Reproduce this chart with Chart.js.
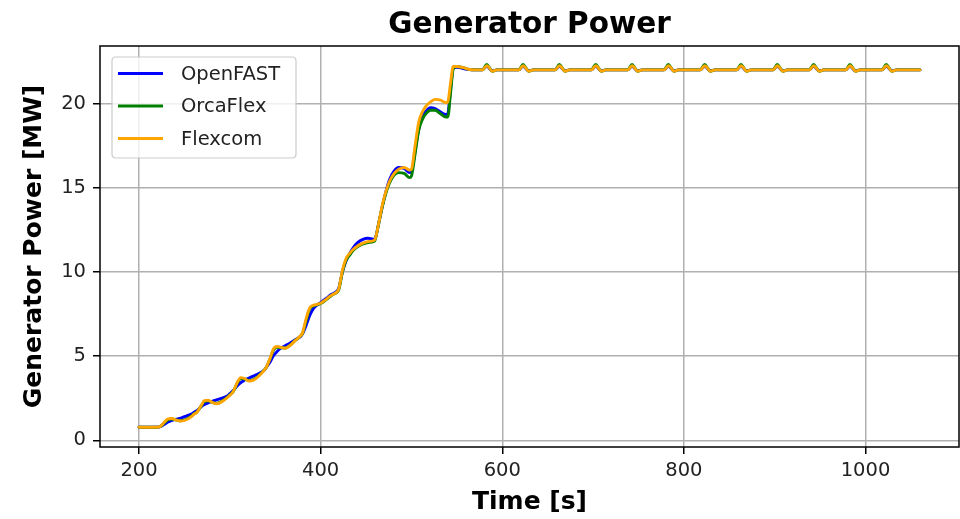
<!DOCTYPE html>
<html>
<head>
<meta charset="utf-8">
<script src="https://cdn.jsdelivr.net/npm/chart.js@4/dist/chart.umd.min.js"></script>
<style>
  html, body { margin: 0; padding: 0; background: #ffffff; }
  canvas { display: block; }
</style>
</head>
<body>
<canvas id="c" width="960" height="519"></canvas>
<script>
const chartTitle = 'Generator Power';
const xLabel = 'Time [s]';
const yLabel = 'Generator Power [MW]';
const seriesNames = ['OpenFAST', 'OrcaFlex', 'Flexcom'];
const xTicks = [200, 400, 600, 800, 1000];
const yTicks = [0, 5, 10, 15, 20];

const times = [200, 210,
  220, 224, 228, 232, 236, 241, 246, 252, 258,
  260, 264, 268, 272, 276, 281, 286, 292, 298,
  300, 304, 308, 312, 316, 321, 326, 332, 338,
  340, 344, 348, 352, 356, 361, 366, 372, 378,
  380, 384, 388, 392, 396, 401, 406, 412, 418,
  420, 424, 428, 432, 436, 441, 446, 452, 458,
  460, 464, 468, 472, 476, 481, 486, 492, 498,
  500, 504, 508, 512, 516, 521, 526, 532, 538,
  540, 543, 546, 550, 556, 562, 570,
  578, 583, 586, 589, 594,
  618, 623, 626, 629, 634,
  658, 663, 666, 669, 674,
  698, 703, 706, 709, 714,
  738, 743, 746, 749, 754,
  778, 783, 786, 789, 794,
  818, 823, 826, 829, 834,
  858, 863, 866, 869, 874,
  898, 903, 906, 909, 914,
  938, 943, 946, 949, 954,
  978, 983, 986, 989, 994,
  1018, 1023, 1026, 1029, 1034,
  1060];

const openfast = [0.77, 0.77,
  0.77, 0.82, 0.95, 1.08, 1.18, 1.25, 1.32, 1.44, 1.57,
  1.64, 1.77, 1.97, 2.12, 2.22, 2.32, 2.42, 2.52, 2.67,
  2.77, 2.97, 3.22, 3.42, 3.57, 3.70, 3.82, 3.97, 4.17,
  4.32, 4.62, 5.02, 5.27, 5.47, 5.62, 5.77, 5.97, 6.17,
  6.32, 6.82, 7.42, 7.82, 8.02, 8.22, 8.42, 8.67, 8.87,
  9.05, 10.0, 10.65, 11.1, 11.45, 11.75, 11.92, 12.0, 11.95,
  12.0, 12.9, 13.9, 14.8, 15.5, 16.0, 16.2, 16.15, 15.9,
  15.95, 17.2, 18.5, 19.2, 19.55, 19.75, 19.7, 19.5, 19.35,
  19.4, 20.8, 22.1, 22.15, 22.1, 22.03, 22.0,
  22.0, 22.22, 22.08, 21.94, 22.0,
  22.0, 22.22, 22.08, 21.94, 22.0,
  22.0, 22.22, 22.08, 21.94, 22.0,
  22.0, 22.22, 22.08, 21.94, 22.0,
  22.0, 22.22, 22.08, 21.94, 22.0,
  22.0, 22.22, 22.08, 21.94, 22.0,
  22.0, 22.22, 22.08, 21.94, 22.0,
  22.0, 22.22, 22.08, 21.94, 22.0,
  22.0, 22.22, 22.08, 21.94, 22.0,
  22.0, 22.22, 22.08, 21.94, 22.0,
  22.0, 22.22, 22.08, 21.94, 22.0,
  22.0, 22.22, 22.08, 21.94, 22.0,
  22.0];

const orcaflex = [0.77, 0.77,
  0.77, 0.84, 1.04, 1.22, 1.26, 1.20, 1.16, 1.25, 1.45,
  1.55, 1.70, 2.00, 2.30, 2.34, 2.24, 2.20, 2.35, 2.60,
  2.70, 2.92, 3.38, 3.67, 3.65, 3.54, 3.60, 3.85, 4.18,
  4.33, 4.80, 5.35, 5.52, 5.50, 5.48, 5.63, 5.93, 6.20,
  6.35, 7.10, 7.80, 7.98, 8.05, 8.15, 8.35, 8.60, 8.80,
  8.95, 10.0, 10.7, 11.0, 11.28, 11.5, 11.65, 11.75, 11.8,
  11.9, 12.9, 13.9, 14.7, 15.3, 15.75, 15.9, 15.85, 15.6,
  15.7, 17.0, 18.4, 19.05, 19.4, 19.6, 19.6, 19.4, 19.2,
  19.2, 20.6, 22.05, 22.2, 22.15, 22.05, 22.0,
  22.0, 22.32, 22.12, 21.92, 22.0,
  22.0, 22.32, 22.12, 21.92, 22.0,
  22.0, 22.32, 22.12, 21.92, 22.0,
  22.0, 22.32, 22.12, 21.92, 22.0,
  22.0, 22.32, 22.12, 21.92, 22.0,
  22.0, 22.32, 22.12, 21.92, 22.0,
  22.0, 22.32, 22.12, 21.92, 22.0,
  22.0, 22.32, 22.12, 21.92, 22.0,
  22.0, 22.32, 22.12, 21.92, 22.0,
  22.0, 22.32, 22.12, 21.92, 22.0,
  22.0, 22.32, 22.12, 21.92, 22.0,
  22.0, 22.32, 22.12, 21.92, 22.0,
  22.0];

const flexcom = [0.77, 0.77,
  0.77, 0.85, 1.08, 1.27, 1.29, 1.20, 1.14, 1.22, 1.42,
  1.52, 1.68, 2.02, 2.35, 2.38, 2.24, 2.17, 2.32, 2.57,
  2.67, 2.92, 3.42, 3.72, 3.67, 3.52, 3.57, 3.82, 4.17,
  4.32, 4.82, 5.42, 5.57, 5.52, 5.47, 5.62, 5.92, 6.22,
  6.37, 7.22, 7.87, 8.02, 8.07, 8.17, 8.37, 8.62, 8.82,
  9.0, 10.1, 10.8, 11.1, 11.35, 11.55, 11.7, 11.8, 11.85,
  11.95, 12.9, 14.0, 14.8, 15.4, 15.85, 16.1, 16.2, 16.05,
  16.1, 17.5, 18.9, 19.5, 19.85, 20.1, 20.25, 20.2, 20.05,
  20.1, 21.2, 22.2, 22.2, 22.15, 22.05, 22.0,
  22.0, 22.25, 22.1, 21.92, 22.0,
  22.0, 22.25, 22.1, 21.92, 22.0,
  22.0, 22.25, 22.1, 21.92, 22.0,
  22.0, 22.25, 22.1, 21.92, 22.0,
  22.0, 22.25, 22.1, 21.92, 22.0,
  22.0, 22.25, 22.1, 21.92, 22.0,
  22.0, 22.25, 22.1, 21.92, 22.0,
  22.0, 22.25, 22.1, 21.92, 22.0,
  22.0, 22.25, 22.1, 21.92, 22.0,
  22.0, 22.25, 22.1, 21.92, 22.0,
  22.0, 22.25, 22.1, 21.92, 22.0,
  22.0, 22.25, 22.1, 21.92, 22.0,
  22.0];

const seriesColors = ['#0000ff', '#008000', '#ffa500'];
const FONT = "'DejaVu Sans', sans-serif";

function pts(vals) { return times.map((t, i) => ({ x: t, y: vals[i] })); }

const titlePlugin = {
  id: 'mplTitle',
  afterDraw(chart) {
    const ctx = chart.ctx, a = chart.chartArea;
    ctx.save();
    ctx.font = "bold 29.5px " + FONT;
    ctx.fillStyle = '#000';
    ctx.textAlign = 'center';
    ctx.textBaseline = 'alphabetic';
    ctx.fillText(chartTitle, (a.left + a.right) / 2, 33);
    ctx.restore();
  }
};

const framePlugin = {
  id: 'frame',
  afterDatasetsDraw(chart) {
    const ctx = chart.ctx, a = chart.chartArea;
    ctx.save();
    ctx.strokeStyle = '#000';
    ctx.lineWidth = 1.5;
    ctx.strokeRect(a.left, a.top, a.right - a.left, a.bottom - a.top);
    ctx.restore();
  }
};

const legendPlugin = {
  id: 'mplLegend',
  afterDraw(chart) {
    const ctx = chart.ctx;
    const x0 = 112, y0 = 57, w = 184, h = 101, r = 4;
    ctx.save();
    ctx.beginPath();
    ctx.moveTo(x0 + r, y0);
    ctx.lineTo(x0 + w - r, y0);
    ctx.quadraticCurveTo(x0 + w, y0, x0 + w, y0 + r);
    ctx.lineTo(x0 + w, y0 + h - r);
    ctx.quadraticCurveTo(x0 + w, y0 + h, x0 + w - r, y0 + h);
    ctx.lineTo(x0 + r, y0 + h);
    ctx.quadraticCurveTo(x0, y0 + h, x0, y0 + h - r);
    ctx.lineTo(x0, y0 + r);
    ctx.quadraticCurveTo(x0, y0, x0 + r, y0);
    ctx.closePath();
    ctx.fillStyle = 'rgba(255,255,255,0.8)';
    ctx.fill();
    ctx.strokeStyle = '#cccccc';
    ctx.lineWidth = 1.2;
    ctx.stroke();
    ctx.font = "19.5px " + FONT;
    ctx.textAlign = 'left';
    ctx.textBaseline = 'middle';
    chart.data.datasets.forEach((ds, i) => {
      const y = 73.5 + i * 32.5;
      ctx.strokeStyle = ds.borderColor;
      ctx.lineWidth = 2.9;
      ctx.beginPath();
      ctx.moveTo(118, y);
      ctx.lineTo(163, y);
      ctx.stroke();
      ctx.fillStyle = '#222';
      ctx.fillText(ds.label, 181, y + 1);
    });
    ctx.restore();
  }
};

new Chart(document.getElementById('c'), {
  type: 'line',
  data: {
    datasets: [
      { label: seriesNames[0], data: pts(openfast), borderColor: seriesColors[0], order: 2 },
      { label: seriesNames[1], data: pts(orcaflex), borderColor: seriesColors[1], order: 1 },
      { label: seriesNames[2], data: pts(flexcom), borderColor: seriesColors[2], order: 0 }
    ].map(d => Object.assign(d, {
      borderWidth: 2.9, pointRadius: 0, fill: false,
      cubicInterpolationMode: 'monotone', borderCapStyle: 'round', borderJoinStyle: 'round'
    }))
  },
  options: {
    responsive: false,
    devicePixelRatio: 1,
    animation: false,
    layout: { padding: { top: 46, right: 1, left: 0, bottom: 0 } },
    plugins: { legend: { display: false }, title: { display: false }, tooltip: { enabled: false } },
    scales: {
      x: {
        type: 'linear', min: 157, max: 1103,
        afterBuildTicks: s => { s.ticks = xTicks.map(v => ({ value: v })); },
        afterFit: s => { s.height = 72; },
        grid: { color: '#b0b0b0', lineWidth: 1.5, tickColor: '#000', tickWidth: 1.5, tickLength: 7, drawTicks: true },
        border: { display: false },
        ticks: { color: '#222', font: { family: FONT, size: 19.5 }, padding: 5, maxRotation: 0, autoSkip: false,
          callback: v => String(v) },
        title: { display: true, text: xLabel, color: '#000', font: { family: FONT, size: 25, weight: 'bold' }, padding: { top: 0, bottom: 2 } }
      },
      y: {
        type: 'linear', min: -0.4, max: 23.42,
        afterBuildTicks: s => { s.ticks = yTicks.map(v => ({ value: v })); },
        afterFit: s => { s.width = 100; },
        grid: { color: '#b0b0b0', lineWidth: 1.5, tickColor: '#000', tickWidth: 1.5, tickLength: 7, drawTicks: true },
        border: { display: false },
        ticks: { color: '#222', font: { family: FONT, size: 19.5 }, padding: 7, autoSkip: false,
          callback: v => String(v) },
        title: { display: true, text: yLabel, color: '#000', font: { family: FONT, size: 25, weight: 'bold' }, padding: { top: 19.5, bottom: 0 } }
      }
    }
  },
  plugins: [titlePlugin, framePlugin, legendPlugin]
});
</script>
</body>
</html>
